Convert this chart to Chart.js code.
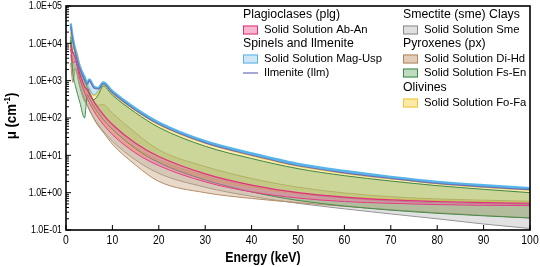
<!DOCTYPE html>
<html>
<head>
<meta charset="utf-8">
<script src="https://cdn.jsdelivr.net/npm/chart.js@4.4.1/dist/chart.umd.min.js"></script>
<style>
  html, body { margin: 0; padding: 0; background: #fff; }
  #wrap { width: 540px; height: 267px; position: relative; }
</style>
</head>
<body>
<div id="wrap"><canvas id="grafico"></canvas></div>
<script>
// energia (keV) e coeficientes de atenuação (cm^-1)
const energy = [1, 1.5, 2, 3, 4, 4.6, 5, 6, 7, 8, 10, 15, 20, 30, 40, 50, 60, 70, 80, 90, 100];

const usp   = [34000, 13000, 6500, 2300, 1250, 850, 1080, 690, 640, 900, 520, 180, 76, 24, 11.3, 5.9, 3.8, 2.65, 1.95, 1.58, 1.32];
const mag   = [30000, 11500, 5800, 2000, 1000, 720, 600, 420, 560, 840, 490, 168, 71, 22.5, 10.6, 5.5, 3.55, 2.5, 1.84, 1.49, 1.25];
const ilm   = [29000, 11000, 5600, 2050, 1050, 800, 1000, 640, 600, 820, 475, 162, 68, 21.5, 10.1, 5.25, 3.4, 2.4, 1.77, 1.43, 1.2];
const fa    = [20000, 7000, 7500, 2600, 1200, 820, 640, 400, 500, 800, 460, 158, 66, 21, 9.8, 5.1, 3.3, 2.35, 1.74, 1.4, 1.16];
const fo    = [9000, 3500, 3800, 1250, 560, 380, 300, 180, 115, 78, 42, 13, 6.8, 2.5, 1.38, 0.96, 0.78, 0.68, 0.62, 0.58, 0.55];
const fs    = [15000, 5500, 6000, 2100, 950, 660, 520, 310, 430, 720, 410, 138, 56, 17.5, 8.2, 4.4, 2.85, 2.05, 1.54, 1.23, 1.0];
const en    = [12000, 1500, 750, 260, 100, 420, 340, 205, 135, 92, 50, 15, 6.4, 2.2, 1.05, 0.62, 0.44, 0.34, 0.28, 0.24, 0.21];
const an    = [9000, 5500, 4200, 1500, 700, 560, 450, 275, 180, 125, 67, 21, 9.3, 3.2, 1.6, 1.0, 0.76, 0.64, 0.58, 0.54, 0.52];
const ab    = [7000, 3000, 3300, 1100, 480, 330, 260, 155, 100, 68, 36, 11.5, 5.3, 1.95, 1.05, 0.72, 0.58, 0.52, 0.48, 0.46, 0.45];
const hd    = [11000, 4200, 4800, 1700, 760, 600, 470, 280, 220, 230, 135, 40, 14, 5.0, 2.4, 1.4, 0.98, 0.78, 0.68, 0.63, 0.59];
const di    = [3000, 900, 2000, 650, 280, 230, 175, 95, 60, 42, 20, 5.5, 2.0, 1.0, 0.7, 0.54, 0.43, 0.35, 0.29, 0.245, 0.21];
const smeUp = [10000, 3800, 4000, 1400, 620, 420, 330, 200, 130, 90, 50, 16, 7.5, 2.8, 1.45, 0.95, 0.72, 0.6, 0.54, 0.51, 0.48];
const smeLo = [5000, 1800, 2200, 750, 320, 215, 165, 100, 65, 45, 24, 7.5, 3.3, 1.4, 0.8, 0.52, 0.37, 0.27, 0.2, 0.145, 0.11];

const yTicks = [0.1, 1, 10, 100, 1000, 10000, 100000];
const yTickLabels = ['1.0E-01', '1.0E+00', '1.0E+01', '1.0E+02', '1.0E+03', '1.0E+04', '1.0E+05'];
const xTicks = [0, 10, 20, 30, 40, 50, 60, 70, 80, 90, 100];

const cores = {
    abAn:  { fill: 'rgba(238,105,160,0.42)', line: '#e0307e', swatch: '#f7b7cf' },
    magUsp:{ fill: 'rgba(150,205,240,0.5)',  line: '#55b5ea', swatch: '#cfe6f6' },
    ilm:   { line: '#6b6fb5' },
    sme:   { fill: 'rgba(185,185,185,0.42)', line: '#8a8a8a', swatch: '#e0e0e0' },
    diHd:  { fill: 'rgba(200,160,120,0.4)',  line: '#b0875e', swatch: '#e3cdb8' },
    fsEn:  { fill: 'rgba(105,170,105,0.33)', line: '#3d8748', swatch: '#bfdcc0' },
    foFa:  { fill: 'rgba(250,220,95,0.5)',   line: '#f0c43c', swatch: '#fbeaa6' }
};

const pts = vals => vals.map((v, i) => ({ x: energy[i], y: v }));

function faixa(label, sup, inf, cor, larg) {
    return [
        { label, data: pts(sup), borderColor: cor.line, borderWidth: larg || 1, backgroundColor: cor.fill, fill: '+1' },
        { label: label + ' min', data: pts(inf), borderColor: cor.line, borderWidth: 1, fill: false }
    ];
}

// o primeiro da lista fica por cima
const datasets = [
    { label: 'Ilmenite (Ilm)', data: pts(ilm), borderColor: cores.ilm.line, borderWidth: 1.2, fill: false },
    ...faixa('Solid Solution Mag-Usp', usp, mag, cores.magUsp, 2.4),
    ...faixa('Solid Solution Ab-An', an, ab, cores.abAn, 1.2),
    ...faixa('Solid Solution Fs-En', fs, en, cores.fsEn),
    ...faixa('Solid Solution Fo-Fa', fa, fo, cores.foFa, 1.2),
    ...faixa('Solid Solution Di-Hd', hd, di, cores.diHd),
    ...faixa('Solid Solution Sme', smeUp, smeLo, cores.sme)
];

const legenda1 = [
    ['head', 'Plagioclases (plg)'],
    ['box', 'Solid Solution Ab-An', cores.abAn],
    ['head', 'Spinels and Ilmenite'],
    ['box', 'Solid Solution Mag-Usp', cores.magUsp],
    ['line', 'Ilmenite (Ilm)', cores.ilm]
];
const legenda2 = [
    ['head', 'Smectite (sme) Clays'],
    ['box', 'Solid Solution Sme', cores.sme],
    ['head', 'Pyroxenes (px)'],
    ['box', 'Solid Solution Di-Hd', cores.diHd],
    ['box', 'Solid Solution Fs-En', cores.fsEn],
    ['head', 'Olivines'],
    ['box', 'Solid Solution Fo-Fa', cores.foFa]
];

function textoEstreito(ctx, txt, x, y, escala) {
    ctx.save();
    ctx.translate(x, y);
    ctx.scale(escala, 1);
    ctx.fillText(txt, 0, 0);
    ctx.restore();
}

const moldura = {
    id: 'moldura',
    afterDraw(chart) {
        const { ctx, chartArea: a, scales: { x, y } } = chart;
        ctx.save();
        ctx.strokeStyle = '#000';
        ctx.fillStyle = '#000';
        ctx.lineWidth = 1;

        // ticks do eixo y (para dentro)
        ctx.font = '11.5px "Liberation Sans", Arial, sans-serif';
        ctx.textAlign = 'right';
        ctx.textBaseline = 'middle';
        yTicks.forEach((v, i) => {
            const py = y.getPixelForValue(v);
            ctx.beginPath(); ctx.moveTo(a.left, py); ctx.lineTo(a.left + 5, py); ctx.stroke();
            textoEstreito(ctx, yTickLabels[i], a.left - 4, py, 0.77);
            if (i < yTicks.length - 1) {
                for (let m = 2; m < 10; m++) {
                    const pm = y.getPixelForValue(v * m);
                    ctx.beginPath(); ctx.moveTo(a.left, pm); ctx.lineTo(a.left + 3, pm); ctx.stroke();
                }
            }
        });

        // ticks do eixo x
        ctx.textAlign = 'center';
        ctx.font = '13px "Liberation Sans", Arial, sans-serif';
        xTicks.forEach(v => {
            const px = x.getPixelForValue(v);
            ctx.beginPath(); ctx.moveTo(px, a.bottom); ctx.lineTo(px, a.bottom - 5); ctx.stroke();
            textoEstreito(ctx, String(v), px, a.bottom + 10, 0.8);
        });

        ctx.lineWidth = 1.6;
        ctx.strokeRect(a.left, a.top, a.right - a.left, a.bottom - a.top);

        // títulos dos eixos
        ctx.font = 'bold 14.5px "Liberation Sans", Arial, sans-serif';
        textoEstreito(ctx, 'Energy (keV)', 263, 258, 0.85);

        ctx.save();
        ctx.translate(12, 116);
        ctx.rotate(-Math.PI / 2);
        ctx.scale(0.88, 1);
        ctx.textAlign = 'left';
        const t1 = 'μ (cm', t3 = ')';
        ctx.font = 'bold 15px "Liberation Sans", Arial, sans-serif';
        const w1 = ctx.measureText(t1).width;
        const w3 = ctx.measureText(t3).width;
        ctx.font = 'bold 9px "Liberation Sans", Arial, sans-serif';
        const w2 = ctx.measureText('-1').width;
        const x0 = -(w1 + w2 + w3) / 2;
        ctx.font = 'bold 15px "Liberation Sans", Arial, sans-serif';
        ctx.fillText(t1, x0, 0);
        ctx.fillText(t3, x0 + w1 + w2, 0);
        ctx.font = 'bold 9px "Liberation Sans", Arial, sans-serif';
        ctx.fillText('-1', x0 + w1, -4);
        ctx.restore();

        // legenda
        const linhas = [15, 30, 44, 59, 73, 88, 103];
        const desenhaColuna = (itens, x0) => {
            itens.forEach((it, i) => {
                const py = linhas[i];
                ctx.textAlign = 'left';
                ctx.textBaseline = 'middle';
                ctx.fillStyle = '#000';
                if (it[0] === 'head') {
                    ctx.font = '12.3px "Liberation Sans", Arial, sans-serif';
                    ctx.fillText(it[1], x0, py);
                    return;
                }
                if (it[0] === 'box') {
                    ctx.fillStyle = it[2].swatch;
                    ctx.fillRect(x0, py - 4.5, 15, 9);
                    ctx.strokeStyle = it[2].line;
                    ctx.lineWidth = 1;
                    ctx.strokeRect(x0 + 0.5, py - 4, 14, 8);
                } else {
                    ctx.strokeStyle = it[2].line;
                    ctx.lineWidth = 1.2;
                    ctx.beginPath(); ctx.moveTo(x0, py); ctx.lineTo(x0 + 15, py); ctx.stroke();
                }
                ctx.fillStyle = '#000';
                ctx.font = '11.3px "Liberation Sans", Arial, sans-serif';
                ctx.fillText(it[1], x0 + 21, py);
            });
        };
        desenhaColuna(legenda1, 243);
        desenhaColuna(legenda2, 403);
        ctx.restore();
    }
};

const ctx = document.getElementById('grafico').getContext('2d');
new Chart(ctx, {
    type: 'line',
    data: { datasets },
    options: {
        responsive: true,
        maintainAspectRatio: false,
        animation: false,
        layout: { padding: { left: 66, right: 10, top: 6, bottom: 37 } },
        elements: {
            point: { radius: 0 },
            line: { cubicInterpolationMode: 'monotone' }
        },
        plugins: {
            legend: { display: false },
            tooltip: { enabled: false }
        },
        scales: {
            x: { type: 'linear', min: 0, max: 100, display: false },
            y: { type: 'logarithmic', min: 0.1, max: 100000, display: false }
        }
    },
    plugins: [moldura]
});
</script>
</body>
</html>
